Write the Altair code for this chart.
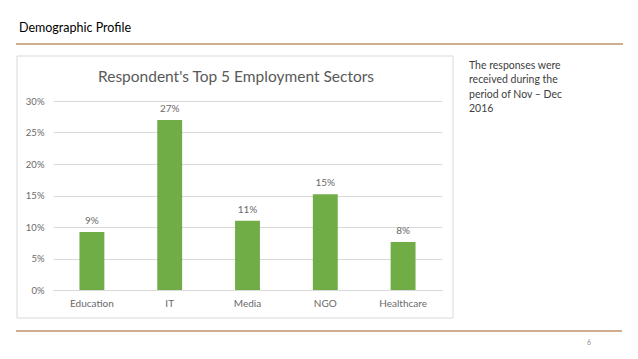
import altair as alt
import pandas as pd

# ---- data ----
sectors = ["Education", "IT", "Media", "NGO", "Healthcare"]
shares = [0.092, 0.270, 0.110, 0.152, 0.076]

slide_title = "Demographic Profile"
chart_title = "Respondent's Top 5 Employment Sectors"
side_note = ["The responses were", "received during the", "period of Nov \u2013 Dec", "2016"]
page_no = "6"

df = pd.DataFrame({"sector": sectors, "share": shares})
one = pd.DataFrame({"k": [0]})

FONT = "Lato"
GREY = "#595959"
LGREY = "#6A6A6A"
ACCENT = "#BF936A"

W, H = 389, 189

base = alt.Chart(df).encode(
    x=alt.X("sector:N", sort=None, title=None,
            scale=alt.Scale(paddingInner=0.68, paddingOuter=0.34),
            axis=alt.Axis(labelAngle=0, ticks=False, domainColor="#D9D9D9",
                          labelColor=LGREY, labelFont=FONT, labelFontSize=10,
                          labelPadding=8)),
    y=alt.Y("share:Q", title=None,
            scale=alt.Scale(domain=[0, 0.30]),
            axis=alt.Axis(format=".0%", values=[0, 0.05, 0.10, 0.15, 0.20, 0.25, 0.30],
                          domain=False, ticks=False, gridColor="#D9D9D9",
                          labelColor=LGREY, labelFont=FONT, labelFontSize=9.5,
                          labelPadding=9)),
)

bars = base.mark_bar(color="#70AD47").properties(width=W, height=H)
labels = base.mark_text(dy=-8, baseline="alphabetic", font=FONT, fontSize=10,
                        color=LGREY).encode(text=alt.Text("share:Q", format=".0%"))

deco = alt.Chart(one)

top_line = deco.mark_rule(color=ACCENT, strokeWidth=1.4).encode(
    x=alt.value(-37), x2=alt.value(570), y=alt.value(-57))
bottom_line = deco.mark_rule(color=ACCENT, strokeWidth=1.4).encode(
    x=alt.value(-37), x2=alt.value(569), y=alt.value(230))
box = deco.mark_rect(fill="transparent", stroke="#D9D9D9", strokeWidth=1).encode(
    x=alt.value(-36), x2=alt.value(400), y=alt.value(-45), y2=alt.value(217))

title_txt = deco.mark_text(align="left", baseline="alphabetic", font=FONT,
                           fontSize=12.5, color="#000000", text=slide_title).encode(
    x=alt.value(-34), y=alt.value(-69))
chart_title_txt = deco.mark_text(align="center", baseline="alphabetic", font=FONT,
                                 fontSize=15.5, color=GREY, text=chart_title).encode(
    x=alt.value(183), y=alt.value(-19))
note_txt = deco.mark_text(align="left", baseline="alphabetic", font=FONT,
                          fontSize=10.5, color="#404040", text=side_note,
                          lineHeight=14.3).encode(
    x=alt.value(416), y=alt.value(-32))
page_txt = deco.mark_text(align="left", baseline="alphabetic", font=FONT,
                          fontSize=7, color="#8C8C8C", text=page_no).encode(
    x=alt.value(534), y=alt.value(244))

chart = alt.layer(
    box, bars, labels, top_line, bottom_line, title_txt, chart_title_txt, note_txt, page_txt
).properties(
    autosize=alt.AutoSizeParams(type="none"),
    padding={"left": 45, "top": 93, "right": 188, "bottom": 61},
    background="white",
).configure_view(stroke=None)

chart.save("out.html", embed_options={"renderer": "svg", "actions": False})
